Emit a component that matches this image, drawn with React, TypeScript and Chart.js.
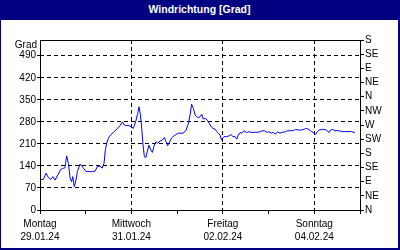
import React, { useEffect, useRef } from "react";
import { Chart, registerables } from "chart.js";

Chart.register(...registerables);

const TITLE = "Windrichtung [Grad]";
const Y_UNIT = "Grad";

// hours since Monday 29.01.24 00:00
const HOURS = [
  0, 1.7, 3.2, 4.4, 5.6, 6.7, 7.9, 9.6, 10.9, 11.9, 13.1, 14.0, 14.9, 15.8, 16.6, 17.2, 18.0, 18.9, 19.6, 21.0,
  22.4, 24.2, 25.9, 27.7, 28.9, 30.1, 31.5, 32.6, 33.6, 34.3, 35.0, 35.9, 37.3, 39.0, 40.3, 42.0, 43.2, 44.3, 45.5, 46.7,
  47.8, 49.0, 50.2, 51.3, 52.0, 52.7, 53.4, 54.1, 54.8, 55.5, 56.3, 57.2, 58.1, 59.0, 60.0, 60.9, 61.8, 63.0, 64.2, 65.3,
  66.2, 67.0, 68.3, 69.1, 70.9, 72.6, 75.2, 76.7, 77.9, 78.8, 79.6, 80.5, 81.4, 82.3, 83.1, 84.0, 84.9, 85.7, 87.0, 88.4,
  89.3, 90.7, 91.9, 92.8, 93.6, 94.5, 95.4, 95.9, 96.6, 98.0, 99.4, 100.3, 101.2, 102.4, 103.3, 104.1, 105.0, 105.9, 107.1, 108.5,
  109.7, 111.1, 112.9, 114.6, 116.4, 117.8, 119.0, 120.2, 121.6, 122.5, 123.4, 124.8, 126.0, 127.2, 128.6, 129.5, 131.3, 133.0, 134.2, 135.6,
  137.4, 138.8, 140.0, 141.2, 142.6, 143.9, 144.7, 145.6, 146.5, 147.9, 149.6, 150.8, 151.7, 152.6, 153.5, 154.9, 156.3, 157.5, 158.4, 160.1,
  163.6, 165.0, 165.4,
];

const DEGREES = [
  97, 97, 117, 103, 97, 106, 95, 114, 129, 132, 134, 172, 148, 101, 90, 106, 74, 95, 122, 146,
  136, 122, 122, 122, 123, 138, 140, 133, 148, 191, 212, 228, 240, 249, 257, 268, 280, 270, 268, 268,
  265, 259, 280, 307, 328, 302, 259, 206, 169, 166, 185, 206, 191, 183, 206, 217, 212, 219, 222, 230,
  217, 204, 219, 229, 238, 244, 244, 254, 275, 302, 336, 323, 302, 296, 293, 296, 304, 289, 291, 280,
  270, 259, 257, 249, 244, 238, 222, 228, 233, 233, 236, 240, 233, 233, 225, 238, 246, 244, 252, 246,
  249, 246, 247, 247, 251, 252, 247, 248, 244, 247, 241, 248, 244, 247, 248, 251, 252, 252, 256, 254,
  254, 257, 259, 256, 249, 244, 240, 249, 254, 256, 256, 252, 246, 254, 256, 252, 252, 251, 249, 249,
  249, 246, 246,
];

const LEFT_TICKS = [0, 70, 140, 210, 280, 350, 420, 490];
const RIGHT_TICKS = [0, 45, 90, 135, 180, 225, 270, 315, 360, 405, 450, 495, 540];
const COMPASS = ["N", "NE", "E", "SE", "S", "SW", "W", "NW", "N", "NE", "E", "SE", "S"];
const DAY_TICKS = [0, 24, 48, 72, 96, 120, 144, 168];
const LABEL_HOURS = [0, 48, 96, 144];
const WEEKDAYS = ["Montag", "Mittwoch", "Freitag", "Sonntag"];
const DATES = ["29.01.24", "31.01.24", "02.02.24", "04.02.24"];

const FONT_FAMILY = "'Liberation Sans', Arial, sans-serif";
const NAVY = "#000080";

export default function App() {
  const ref = useRef<HTMLCanvasElement | null>(null);

  useEffect(() => {
    if (!ref.current) return;
    const points = HOURS.map((h, i) => ({ x: h, y: DEGREES[i] }));

    const framePlugin = {
      id: "frame",
      afterDraw(chart: any) {
        const { ctx, chartArea } = chart;
        ctx.save();
        ctx.strokeStyle = "#000";
        ctx.lineWidth = 1;
        ctx.setLineDash([]);
        ctx.strokeRect(
          chartArea.left + 0.5,
          chartArea.top + 0.5,
          chartArea.right - chartArea.left,
          chartArea.bottom - chartArea.top
        );
        ctx.fillStyle = "#000";
        ctx.font = `10px ${FONT_FAMILY}`;
        ctx.textAlign = "right";
        ctx.textBaseline = "middle";
        ctx.fillText(Y_UNIT, chartArea.left - 3, chartArea.top + 5);
        ctx.restore();
      },
    };

    const chart = new Chart(ref.current, {
      type: "line",
      data: {
        datasets: [
          {
            data: points,
            borderColor: "#0000ff",
            borderWidth: 1,
            pointRadius: 0,
            tension: 0,
            fill: false,
          },
        ],
      },
      options: {
        animation: false,
        responsive: false,
        parsing: false as any,
        layout: { padding: { top: 20, left: 0, right: 0, bottom: 0 } },
        plugins: {
          legend: { display: false },
          tooltip: { enabled: false },
          title: { display: false },
        },
        scales: {
          x: {
            type: "linear",
            min: 0,
            max: 168,
            afterBuildTicks: (scale: any) => {
              scale.ticks = DAY_TICKS.map((v) => ({ value: v }));
            },
            afterFit: (scale: any) => {
              scale.height = 38;
            },
            grid: {
              color: (ctx: any) => {
                const v = ctx.tick ? ctx.tick.value : -1;
                return v === 48 || v === 96 || v === 144 ? "#000" : "rgba(0,0,0,0)";
              },
              tickColor: "#000",
              tickLength: 4,
              lineWidth: 1,
            },
            border: { display: false, dash: [4, 3] },
            ticks: {
              autoSkip: false,
              maxRotation: 0,
              minRotation: 0,
              padding: 4,
              color: "#000",
              font: { family: FONT_FAMILY, size: 10, lineHeight: 1.3 },
              callback: (value: any) => {
                const idx = LABEL_HOURS.indexOf(Number(value));
                return idx >= 0 ? [WEEKDAYS[idx], DATES[idx]] : "";
              },
            },
          },
          y: {
            type: "linear",
            position: "left",
            min: 0,
            max: 540,
            afterBuildTicks: (scale: any) => {
              scale.ticks = LEFT_TICKS.map((v) => ({ value: v }));
            },
            afterFit: (scale: any) => {
              scale.width = 39;
            },
            grid: {
              color: "#000",
              tickColor: "#000",
              tickLength: 3,
              lineWidth: 1,
            },
            border: { display: false, dash: [4, 3] },
            ticks: {
              autoSkip: false,
              padding: 1,
              color: "#000",
              font: { family: FONT_FAMILY, size: 10 },
              callback: (value: any) => String(value),
            },
          },
          y2: {
            type: "linear",
            position: "right",
            min: 0,
            max: 540,
            afterBuildTicks: (scale: any) => {
              scale.ticks = RIGHT_TICKS.map((v) => ({ value: v }));
            },
            afterFit: (scale: any) => {
              scale.width = 38;
            },
            grid: {
              drawOnChartArea: false,
              tickColor: "#000",
              tickLength: 4,
            },
            border: { display: false },
            ticks: {
              autoSkip: false,
              padding: 1,
              color: "#000",
              font: { family: FONT_FAMILY, size: 10 },
              callback: (value: any) => {
                const idx = RIGHT_TICKS.indexOf(Number(value));
                return idx >= 0 ? COMPASS[idx] : "";
              },
            },
          },
        },
      },
      plugins: [framePlugin],
    });

    return () => chart.destroy();
  }, []);

  return (
    <div
      style={{
        position: "absolute",
        left: 0,
        top: 0,
        width: 400,
        height: 250,
        boxSizing: "border-box",
        background: "#fff",
        borderLeft: `1px solid ${NAVY}`,
        borderRight: `2px solid ${NAVY}`,
        borderBottom: `2px solid ${NAVY}`,
        overflow: "hidden",
      }}
    >
      <div
        style={{
          height: 20,
          lineHeight: "19px",
          background: NAVY,
          color: "#fff",
          fontFamily: FONT_FAMILY,
          fontWeight: "bold",
          fontSize: "10.5px",
          textAlign: "center",
        }}
      >
        {TITLE}
      </div>
      <canvas ref={ref} width={397} height={228} style={{ display: "block", width: 397, height: 228 }} />
    </div>
  );
}
